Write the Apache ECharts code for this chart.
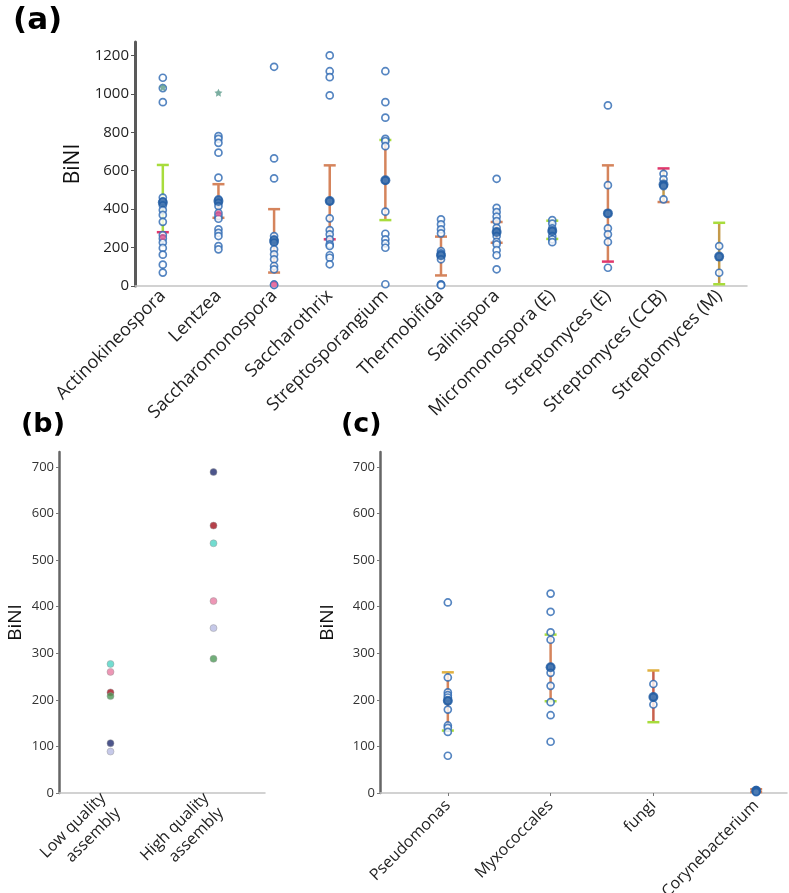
<!DOCTYPE html>
<html><head><meta charset="utf-8">
<script src="https://cdn.jsdelivr.net/npm/echarts@6/dist/echarts.min.js"></script>
<style>html,body{margin:0;padding:0;background:#fff}#c{width:789px;height:893px}</style>
</head><body><div id="c"></div>
<script>
// ---------- DATA ----------
const catsA = ['Actinokineospora','Lentzea','Saccharomonospora','Saccharothrix','Streptosporangium','Thermobifida','Salinispora','Micromonospora (E)','Streptomyces (E)','Streptomyces (CCB)','Streptomyces (M)'];
const pointsA = [
  [1084,1030,957,460,440,420,395,370,334,265,247,226,198,163,111,70],
  [780,766,745,694,564,451,433,416,380,364,350,295,277,260,208,191],
  [1141,664,560,260,243,225,191,165,139,104,87,8,5],
  [1200,1118,1087,992,442,352,291,269,243,217,208,160,147,113],
  [1118,957,876,766,754,728,550,387,272,243,222,199,9],
  [347,321,295,274,182,170,160,139,9,6,4],
  [558,407,385,361,338,303,281,260,230,217,186,160,87],
  [343,325,300,286,260,243,228],
  [940,525,378,300,269,229,95],
  [584,555,525,520,451],
  [208,153,69]
];
const meanA = [435,442,234,442,550,160,281,286,378,528,153];
const errLowA = [280,355,70,243,343,55,225,245,127,437,9];
const errHighA = [630,530,400,628,760,257,333,340,628,612,329];
const starCatA = [0,1];
const starValA = [1035,1006];
const pinkCatA = [0,1,2];
const pinkValA = [255,378,8];
const ticksA = [0,200,400,600,800,1000,1200];

const catsB = ['Low quality\nassembly','High quality\nassembly'];
const lowQualityB  = [107,216,277,260,89,208];
const highQualityB = [689,574,536,412,354,288];

const catsC = ['Pseudomonas','Myxococcales','fungi','Corynebacterium'];
const pointsC = [
  [409,248,216,210,205,198,179,145,140,131,80],
  [428,389,345,329,270,258,230,195,167,110],
  [234,206,190],
  [6,4,3,2]
];
const meanC = [198,270,206,5];
const errLowC = [134,197,152,2];
const errHighC = [259,340,263,8];
const ticksBC = [0,100,200,300,400,500,600,700];
const posC = [0,1,2,3];

// ---------- STYLES ----------
const OR = '#d5845c', GR = '#a8dc3c', RD = '#e0386c', OL = '#c49a4a';
const barStyleA = [
  [GR,GR,RD],[OR,OR,OR],[OR,OR,OR],[OR,OR,RD],[OR,GR,GR],[OR,OR,OR],
  [OR,OR,OR],[GR,GR,GR],[OR,OR,RD],[OL,RD,OR],[OL,GR,GR]
];
const barStyleC = [[OR,'#e0b040',GR],[OR,GR,GR],['#c8604c','#e0b040',GR],[OR,OR,OR]];
const colorsB = ['#1f2a6e','#a3121e','#4fd3c4','#e87ca2','#b8bce4','#4e9a58'];
const FONT = 'Open Sans';

function errRender(styles){
  return function(params, api){
    const x = api.value(0), lo = api.value(1), hi = api.value(2);
    const a = api.coord([x, lo]), b = api.coord([x, hi]);
    const s = styles[params.dataIndex];
    const hw = 6;
    return {type:'group', children:[
      {type:'line', shape:{x1:a[0],y1:a[1],x2:b[0],y2:b[1]}, style:{stroke:s[0],lineWidth:2.5}},
      {type:'line', shape:{x1:b[0]-hw,y1:b[1],x2:b[0]+hw,y2:b[1]}, style:{stroke:s[1],lineWidth:2.5}},
      {type:'line', shape:{x1:a[0]-hw,y1:a[1],x2:a[0]+hw,y2:a[1]}, style:{stroke:s[2],lineWidth:2.5}}
    ]};
  };
}
function flat(pts, pos){ const o=[]; pts.forEach((arr,i)=>arr.forEach(v=>o.push([pos?pos[i]:i,v]))); return o; }
function zip(xs, ys){ return xs.map((x,i)=>[x,ys[i]]); }

const openCircle = {color:'#fff', borderColor:'#2b67b1', borderWidth:1.7};
const meanStyle = {color:'#1f5aa0'};
const titleStyle = (fs)=>({fontSize:fs,fontWeight:'bold',fontFamily:'DejaVu Sans',color:'#000'});

const chart = echarts.init(document.getElementById('c'));
chart.setOption({
  animation:false,
  textStyle:{fontFamily:FONT},
  title:[
    {text:'(a)', left:8, top:0, textStyle:titleStyle(31)},
    {text:'(b)', left:16, top:406, textStyle:titleStyle(27)},
    {text:'(c)', left:336, top:406, textStyle:titleStyle(27)}
  ],
  grid:[
    {left:135, top:42, right:42, height:244, outerBoundsMode:'none', containLabel:false},
    {left:59, top:452, width:206, height:341, outerBoundsMode:'none', containLabel:false},
    {left:380, top:452, right:2, height:341, outerBoundsMode:'none', containLabel:false}
  ],
  xAxis:[
    {type:'category', gridIndex:0, data:catsA,
     axisLine:{lineStyle:{color:'#c4c4c4',width:1.5}},
     axisTick:{alignWithLabel:true,length:3,lineStyle:{color:'#777'}},
     axisLabel:{rotate:45, fontSize:18, color:'#222', margin:7, fontFamily:FONT}},
    {type:'category', gridIndex:1, data:catsB,
     axisLine:{lineStyle:{color:'#c4c4c4',width:1.5}},
     axisTick:{alignWithLabel:true,length:3,lineStyle:{color:'#777'}},
     axisLabel:{rotate:45, fontSize:16, color:'#222', margin:10, lineHeight:21, fontFamily:FONT}},
    {type:'value', gridIndex:2, min:-0.66, max:3.3, splitLine:{show:false},
     axisLine:{show:true,onZero:false,lineStyle:{color:'#c4c4c4',width:1.5}},
     axisTick:{show:true,customValues:posC,length:3,lineStyle:{color:'#777'}},
     axisLabel:{customValues:posC, formatter:v=>catsC[Math.round(v)], rotate:45, fontSize:16, color:'#222', margin:10, fontFamily:FONT}}
  ],
  yAxis:[
    {type:'value', gridIndex:0, min:0, max:1270, splitLine:{show:false},
     name:'BiNI', nameLocation:'middle', nameGap:41, nameTextStyle:{fontSize:21,color:'#111',fontFamily:FONT},
     axisLine:{show:true,onZero:false,lineStyle:{color:'#5a5a5a',width:3}},
     axisTick:{show:true,customValues:ticksA,length:4,lineStyle:{color:'#555'}},
     axisLabel:{customValues:ticksA, formatter:v=>String(v), fontSize:15, color:'#222', margin:6}},
    {type:'value', gridIndex:1, min:0, max:732, splitLine:{show:false},
     name:'BiNI', nameLocation:'middle', nameGap:34, nameTextStyle:{fontSize:19,color:'#111',fontFamily:FONT},
     axisLine:{show:true,onZero:false,lineStyle:{color:'#666',width:2.5}},
     axisTick:{show:true,customValues:ticksBC,length:3,lineStyle:{color:'#777'}},
     axisLabel:{customValues:ticksBC, fontSize:13, color:'#333', margin:5}},
    {type:'value', gridIndex:2, min:0, max:732, splitLine:{show:false},
     name:'BiNI', nameLocation:'middle', nameGap:43, nameTextStyle:{fontSize:19,color:'#111',fontFamily:FONT},
     axisLine:{show:true,onZero:false,lineStyle:{color:'#666',width:2.5}},
     axisTick:{show:true,customValues:ticksBC,length:3,lineStyle:{color:'#777'}},
     axisLabel:{customValues:ticksBC, fontSize:13, color:'#333', margin:5}}
  ],
  series:[
    {type:'custom', xAxisIndex:0, yAxisIndex:0, renderItem:errRender(barStyleA), encode:{x:0,y:[1,2]},
     data:catsA.map((c,i)=>[i,errLowA[i],errHighA[i]]), z:1},
    {type:'scatter', xAxisIndex:0, yAxisIndex:0, data:flat(pointsA), symbol:'circle', symbolSize:7, itemStyle:openCircle, z:2},
    {type:'scatter', xAxisIndex:0, yAxisIndex:0, data:zip(pinkCatA,pinkValA), symbol:'circle', symbolSize:6, itemStyle:{color:'#e0508c',opacity:0.8}, z:3},
    {type:'scatter', xAxisIndex:0, yAxisIndex:0, data:zip(starCatA,starValA), symbol:'path://M0,-10L2.9,-4L9.5,-3.1L4.8,1.5L5.9,8.1L0,5L-5.9,8.1L-4.8,1.5L-9.5,-3.1L-2.9,-4Z', symbolSize:8, itemStyle:{color:'#5a9a8a'}, z:3},
    {type:'scatter', xAxisIndex:0, yAxisIndex:0, data:zip(catsA.map((c,i)=>i),meanA), symbol:'circle', symbolSize:10, itemStyle:meanStyle, z:4},

    ...colorsB.map((col,k)=>({type:'scatter', xAxisIndex:1, yAxisIndex:1,
      data:[[0,lowQualityB[k]],[1,highQualityB[k]]], symbol:'circle', symbolSize:7,
      itemStyle:{color:col,borderColor:'#999',borderWidth:0.6}})),

    {type:'custom', xAxisIndex:2, yAxisIndex:2, renderItem:errRender(barStyleC), encode:{x:0,y:[1,2]},
     data:posC.map((p,i)=>[p,errLowC[i],errHighC[i]]), z:1},
    {type:'scatter', xAxisIndex:2, yAxisIndex:2, data:flat(pointsC,posC), symbol:'circle', symbolSize:7, itemStyle:openCircle, z:2},
    {type:'scatter', xAxisIndex:2, yAxisIndex:2, data:zip(posC,meanC), symbol:'circle', symbolSize:10, itemStyle:meanStyle, z:4}
  ]
});
</script></body></html>
